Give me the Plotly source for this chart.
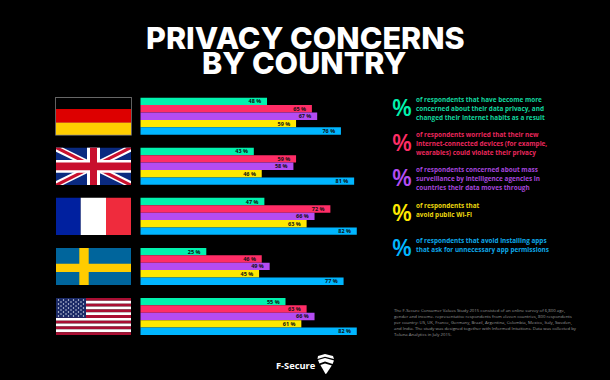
import plotly.graph_objects as go

W, H = 610, 380
countries = ["Germany", "UK", "France", "Sweden", "USA"]
series_names = ["Became more concerned", "Connected devices", "Mass surveillance", "Avoid public Wi-Fi", "Avoid installing apps"]
became_concerned = [48, 43, 47, 25, 55]
connected_devices = [65, 59, 72, 46, 63]
mass_surveillance = [67, 58, 66, 49, 66]
avoid_wifi = [59, 46, 63, 45, 61]
avoid_apps = [76, 81, 82, 77, 82]
series_values = [became_concerned, connected_devices, mass_surveillance, avoid_wifi, avoid_apps]
colors = ["#00F2AE", "#FF2D66", "#B44CF2", "#FFE800", "#00B6FF"]
legend_colors = ["#12D69E", "#E8275C", "#A445DC", "#EAD60E", "#0DA8E8"]
legend_texts = [
    "of respondents that have become more<br>concerned about their data privacy, and<br>changed their Internet habits as a result",
    "of respondents worried that their new<br>Internet-connected devices (for example,<br>wearables) could violate their privacy",
    "of respondents concerned about mass<br>surveillance by intelligence agencies in<br>countries their data moves through",
    "of respondents that<br>avoid public Wi-Fi",
    "of respondents that avoid installing apps<br>that ask for unnecessary app permissions",
]
legend_text_y = [108.5, 143.5, 178.5, 210, 245]
legend_pct_y = [107.3, 142, 177.3, 212, 247]
footnote_lines = [
    "The F-Secure Consumer Values Study 2015 consisted of an online survey of 6,800 age,",
    "gender and income- representative respondents from eleven countries, 800 respondents",
    "per country: US, UK, France, Germany, Brazil, Argentina, Colombia, Mexico, Italy, Sweden,",
    "and India. The study was designed together with Informed Intuitions. Data was collected by",
    "Toluna Analytics in July 2015.",
]

fig = go.Figure()
for name, vals, c in zip(series_names, series_values, colors):
    fig.add_trace(go.Bar(
        y=countries, x=vals, name=name, orientation="h", marker=dict(color=c, line=dict(width=0)),
        text=[f"{v} %\u00a0\u00a0" for v in vals], textposition="inside", insidetextanchor="end",
        textangle=0, constraintext="none", cliponaxis=False,
        textfont=dict(family="Open Sans", size=5.5, color="#111111", weight=700),
        hoverinfo="skip",
    ))

shapes = []
def rect(x0, y0, x1, y1, color, **kw):
    shapes.append(dict(type="rect", xref="x2", yref="y2", x0=x0, y0=y0, x1=x1, y1=y1,
                       fillcolor=color, line=dict(width=0), layer="above", **kw))
def poly(points, color):
    d = "M" + " L".join(f"{x:.2f},{y:.2f}" for x, y in points) + " Z"
    shapes.append(dict(type="path", xref="x2", yref="y2", path=d, fillcolor=color,
                       line=dict(width=0), layer="above"))

FX0, FX1 = 56, 131
# Germany
rect(FX0-0.7, 97, FX1+0.7, 135.4, "#8a8a8a")
rect(FX0, 97.7, FX1, 109, "#000000")
rect(FX0, 109, FX1, 122.7, "#DD0000")
rect(FX0, 122.7, FX1, 134.7, "#FFCE00")
# UK
y0, y1 = 147.7, 185
rect(FX0, y0, FX1, y1, "#0A2A80")
for a, b in [((FX0, y0), (FX1, y1)), ((FX0, y1), (FX1, y0))]:
    sy = 1 if b[1] > a[1] else -1
    poly([(a[0], a[1]), (a[0]+7, a[1]), (b[0], b[1]-sy*4), (b[0], b[1]), (b[0]-7, b[1]), (a[0], a[1]+sy*4)], "#FFFFFF")
    poly([(a[0], a[1]), (a[0]+4, a[1]), (b[0], b[1]-sy*1.6), (b[0], b[1]), (b[0]-4, b[1]), (a[0], a[1]+sy*1.6)], "#C8102E")
rect(FX0, 160, FX1, 172.7, "#FFFFFF")
rect(87, y0, 100, y1, "#FFFFFF")
rect(FX0, 162.5, FX1, 170.2, "#C8102E")
rect(90, y0, 97, y1, "#C8102E")
# France
rect(FX0, 197.7, 80.7, 235, "#00209F")
rect(80.7, 197.7, 106, 235, "#FFFFFF")
rect(106, 197.7, FX1, 235, "#EF2B3D")
# Sweden
rect(FX0, 248, FX1, 285, "#00659C")
rect(79.3, 248, 88.7, 285, "#FFCC00")
rect(FX0, 263.7, FX1, 272, "#FFCC00")
# USA
uy0, uy1 = 298, 335
sh = (uy1-uy0)/13
for i in range(13):
    rect(FX0, uy0+i*sh, FX1, uy0+(i+1)*sh, "#A90F33" if i % 2 == 0 else "#FFFFFF")
rect(FX0, uy0, 86, uy0+7*sh, "#1B2A66")
for r in range(9):
    n = 6 if r % 2 == 0 else 5
    for c in range(n):
        cx = FX0 + 2.5 + c*5 + (0 if r % 2 == 0 else 2.5)
        cy = uy0 + 2 + r*2.0
        shapes.append(dict(type="circle", xref="x2", yref="y2", x0=cx-0.7, x1=cx+0.7, y0=cy-0.7, y1=cy+0.7,
                           fillcolor="#E8ECF5", line=dict(width=0), layer="above"))
# Logo mark
poly([(318, 356), (325, 354), (333, 356), (334, 359), (325, 356.8), (317.5, 359)], "#FFFFFF")
poly([(318, 360), (325, 358), (334, 360.4), (332.6, 364), (325, 361.6), (319.4, 363.6)], "#FFFFFF")
poly([(320.4, 365), (325, 363.4), (331.8, 365.4), (326.5, 373.5), (325.5, 374)], "#FFFFFF")

ann = []
def text(x, y, s, size, color, family="Open Sans", weight=700, xanchor="left", align="left"):
    ann.append(dict(xref="x2", yref="y2", x=x, y=y, text=s, showarrow=False, xanchor=xanchor, yanchor="middle",
                    align=align, borderpad=0, borderwidth=0,
                    font=dict(family=family, size=size, color=color, weight=weight)))

text(305, 37.5, "PRIVACY CONCERNS", 30.5, "#FFFFFF", family="Inter", weight=800, xanchor="center", align="center")
text(304.5, 62.5, "BY COUNTRY", 30.5, "#FFFFFF", family="Inter", weight=800, xanchor="center", align="center")
for s, y, py, c, pc in zip(legend_texts, legend_text_y, legend_pct_y, legend_colors, colors):
    lines = s.split("<br>")
    top = y - (len(lines)-1)*8.6/2
    for i, ln in enumerate(lines):
        text(415.5, top+i*8.6, ln, 6.4, c)
    text(402, py, "%", 23, pc, family="Open Sans", weight=600, xanchor="center", align="center")
for i, ln in enumerate(footnote_lines):
    text(394, 310.4+i*6.0, ln, 4.3, "#9a9a9a", weight=400)
text(276, 365.3, "F-Secure", 9.3, "#FFFFFF", weight=700)

fig.update_layout(
    width=W, height=H, margin=dict(l=0, r=0, t=0, b=0, pad=0), autosize=False,
    paper_bgcolor="#000000", plot_bgcolor="rgba(0,0,0,0)", showlegend=False,
    barmode="group", bargap=0.26, bargroupgap=0,
    xaxis=dict(domain=[140.3/W, 370/W], range=[0, (370-140.3)/2.64], visible=False, fixedrange=True),
    yaxis=dict(domain=[1-341.5/H, 1-91.2/H], autorange=False, range=[4.5, -0.5], type="category", visible=False, fixedrange=True),
    xaxis2=dict(domain=[0, 1], range=[0, W], visible=False, anchor="y2", fixedrange=True),
    yaxis2=dict(domain=[0, 1], range=[H, 0], visible=False, anchor="x2", fixedrange=True),
    shapes=shapes, annotations=ann,
)
fig.add_trace(go.Scatter(x=[0], y=[0], xaxis="x2", yaxis="y2", mode="markers", marker=dict(opacity=0), hoverinfo="skip"))
fig.write_html("out.html", config=dict(displayModeBar=False),
               post_script="document.body.style.margin='0';document.body.style.background='#000';document.body.style.overflow='hidden';")
